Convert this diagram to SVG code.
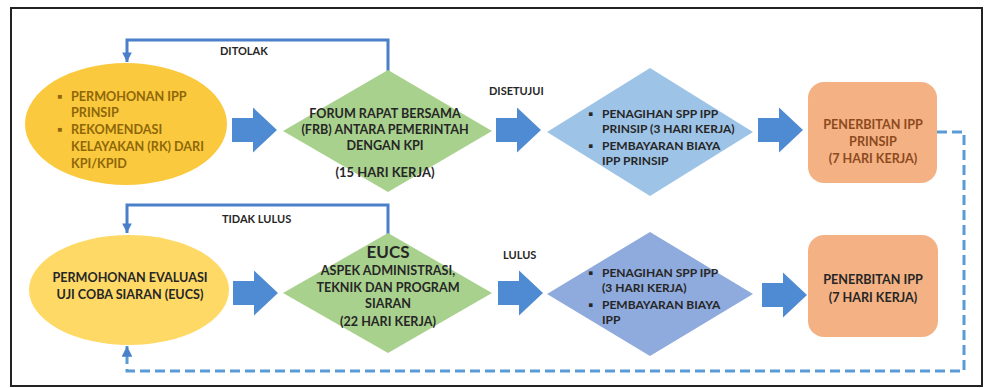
<svg xmlns="http://www.w3.org/2000/svg" xmlns:xlink="http://www.w3.org/1999/xlink" width="988" height="388" viewBox="0 0 988 388">
<style>
text{font-family:Lato,"Liberation Sans",sans-serif;font-weight:bold;font-size:12.6px;fill:#262626}
.c{text-anchor:middle}
.gold{fill:#8d6709}
.brown{fill:#8c4a1e}
.sm{font-size:12px}
.lbl{font-size:11px}
.blk{fill:#4f8bd2}
.fb{fill:none;stroke:#4a7fca;stroke-width:3}
.dash{fill:none;stroke:#5b9bd5;stroke-width:3;stroke-dasharray:10 5}
</style>
<defs>
<path id="barrow" d="M0,-12 H21 V-22.5 L45,0 L21,22.5 V12 H0 Z"/>
<marker id="ah" viewBox="0 0 10 10" refX="10" refY="5" markerWidth="3.2" markerHeight="3.2" orient="auto" markerUnits="strokeWidth">
<path d="M0,0 L10,5 L0,10 Z" fill="#4a7fca"/>
</marker>
<marker id="ahd" viewBox="0 0 10 10" refX="10" refY="5" markerWidth="3.6" markerHeight="3.6" orient="auto" markerUnits="strokeWidth">
<path d="M0,0 L10,5 L0,10 Z" fill="#4a7fca"/>
</marker>
</defs>
<rect x="11" y="8" width="971" height="378" fill="#fff" stroke="#222" stroke-width="2"/>

<g id="connectors">
<use href="#barrow" x="232" y="130" class="blk"/>
<use href="#barrow" x="496" y="130" class="blk"/>
<use href="#barrow" x="758" y="130" class="blk"/>
<use href="#barrow" x="233" y="293" class="blk"/>
<use href="#barrow" x="498" y="293" class="blk"/>
<use href="#barrow" x="762" y="295" class="blk"/>
<path class="fb" d="M388,72 V40 H127 V62" marker-end="url(#ah)"/>
<path class="fb" d="M388,235 V205 H127 V233" marker-end="url(#ah)"/>
<path class="dash" d="M937,132 H964 V371 H127 V346" marker-end="url(#ahd)"/>
<text class="lbl" x="220" y="55">DITOLAK</text>
<text class="lbl" x="489" y="95">DISETUJUI</text>
<text class="lbl" x="222" y="223">TIDAK LULUS</text>
<text class="lbl" x="503" y="259">LULUS</text>
</g>

<g id="n1">
<ellipse cx="126" cy="124" rx="101" ry="61" fill="#fbc93d"/>
<text class="gold" x="57" y="101">▪</text>
<text class="gold" x="71" y="101">PERMOHONAN IPP</text>
<text class="gold" x="71" y="117">PRINSIP</text>
<text class="gold" x="57" y="134">▪</text>
<text class="gold" x="71" y="134">REKOMENDASI</text>
<text class="gold" x="71" y="151">KELAYAKAN (RK) DARI</text>
<text class="gold" x="71" y="168">KPI/KPID</text>
</g>

<g id="n2">
<polygon points="283,131 388,70 492,131 388,192" fill="#a9d18e"/>
<text class="c" x="385" y="118">FORUM RAPAT BERSAMA</text>
<text class="c" x="385" y="134">(FRB) ANTARA PEMERINTAH</text>
<text class="c" x="385" y="150">DENGAN KPI</text>
<text class="c" x="385" y="177" style="font-size:13px">(15 HARI KERJA)</text>
</g>

<g id="n3">
<polygon points="547,132 650,68 753,132 650,196" fill="#9dc3e6"/>
<text class="sm" x="588" y="118">▪</text>
<text class="sm" x="602" y="118">PENAGIHAN SPP IPP</text>
<text class="sm" x="602" y="133">PRINSIP (3  HARI KERJA)</text>
<text class="sm" x="588" y="150">▪</text>
<text class="sm" x="602" y="150">PEMBAYARAN BIAYA</text>
<text class="sm" x="602" y="165">IPP PRINSIP</text>
</g>

<g id="n4">
<rect x="808" y="82" width="129" height="101" rx="16" fill="#f4b183"/>
<text class="c brown" x="873" y="129">PENERBITAN IPP</text>
<text class="c brown" x="873" y="146">PRINSIP</text>
<text class="c brown" x="873" y="163">(7 HARI KERJA)</text>
</g>

<g id="n5">
<ellipse cx="129" cy="290" rx="100" ry="55" fill="#ffd966"/>
<text class="c" x="130" y="282">PERMOHONAN EVALUASI</text>
<text class="c" x="130" y="299">UJI COBA SIARAN (EUCS)</text>
</g>

<g id="n6">
<polygon points="283,293 388,233 492,293 388,353" fill="#a9d18e"/>
<text class="c" x="388" y="258" style="font-size:17px">EUCS</text>
<text class="c" x="388" y="275">ASPEK ADMINISTRASI,</text>
<text class="c" x="388" y="292">TEKNIK DAN PROGRAM</text>
<text class="c" x="388" y="308">SIARAN</text>
<text class="c" x="388" y="326">(22 HARI KERJA)</text>
</g>

<g id="n7">
<polygon points="547,294 650,232 753,294 650,356" fill="#8faadc"/>
<text class="sm" x="588" y="277">▪</text>
<text class="sm" x="602" y="277">PENAGIHAN SPP IPP</text>
<text class="sm" x="602" y="292">(3 HARI  KERJA)</text>
<text class="sm" x="588" y="309">▪</text>
<text class="sm" x="602" y="309">PEMBAYARAN BIAYA</text>
<text class="sm" x="602" y="324">IPP</text>
</g>

<g id="n8">
<rect x="808" y="235" width="130" height="102" rx="16" fill="#f4b183"/>
<text class="c" x="873" y="284">PENERBITAN IPP</text>
<text class="c" x="873" y="302">(7 HARI KERJA)</text>
</g>
</svg>
